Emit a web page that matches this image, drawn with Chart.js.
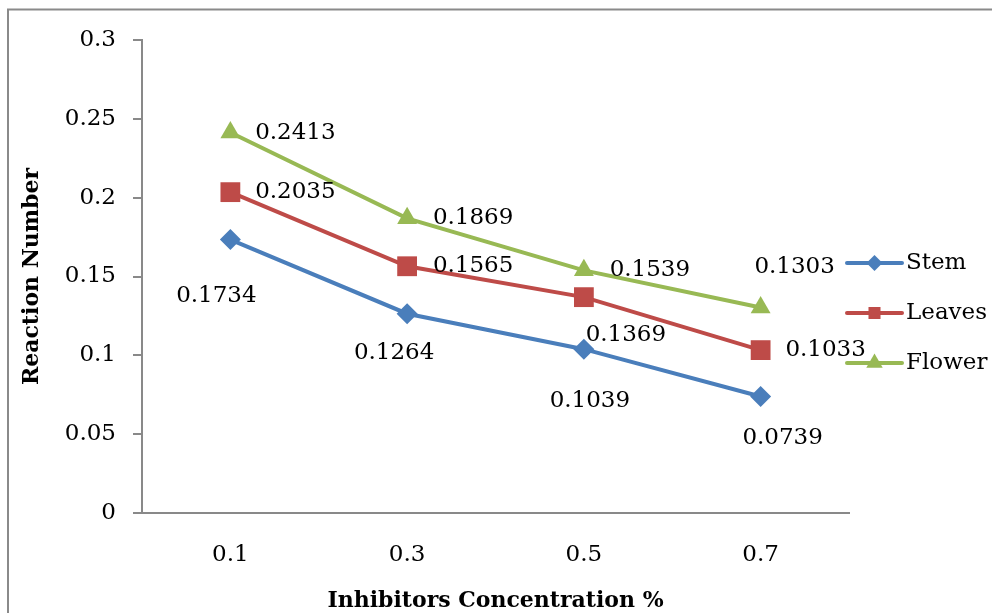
<!DOCTYPE html>
<html>
<head>
<meta charset="utf-8">
<script src="https://cdn.jsdelivr.net/npm/chart.js@4/dist/chart.umd.min.js"></script>
<style>
  html, body { margin: 0; padding: 0; background: #fff; }
  #wrap { width: 992px; height: 613px; }
</style>
</head>
<body>
<div id="wrap"><canvas id="chart" width="992" height="613"></canvas></div>
<script>
const concentrations = ["0.1", "0.3", "0.5", "0.7"];
const stem = [0.1734, 0.1264, 0.1039, 0.0739];
const leaves = [0.2035, 0.1565, 0.1369, 0.1033];
const flower = [0.2413, 0.1869, 0.1539, 0.1303];

const FONT = "'DejaVu Serif', serif";
const AXIS_GRAY = "#898989";

// where each value label sits relative to its point (Excel hand-placed them)
const labelOffsets = [
  [[-14, 56], [-13, 39], [6, 52], [22, 42]],
  [[65, 0], [66, 0], [42, 38], [65, 0]],
  [[65, 0], [66, 0], [66, 0], [34, -41]]
];

const legendMarks = [
  { pointStyle: "rectRot", radius: 8 },
  { pointStyle: "rect", radius: 8.5 },
  { pointStyle: "triangle", radius: 9.5 }
];

const framePlugin = {
  id: "frame",
  beforeDraw(chart) {
    const ctx = chart.ctx;
    ctx.save();
    ctx.fillStyle = "#fff";
    ctx.fillRect(0, 0, chart.width, chart.height);
    ctx.strokeStyle = "#8a8a8a";
    ctx.lineWidth = 2;
    ctx.strokeRect(8, 9.5, chart.width + 20, chart.height + 20);
    ctx.restore();
  }
};

const valueLabels = {
  id: "valueLabels",
  afterDatasetsDraw(chart) {
    const ctx = chart.ctx;
    ctx.save();
    ctx.font = "23px " + FONT;
    ctx.fillStyle = "#000";
    ctx.textAlign = "center";
    ctx.textBaseline = "middle";
    chart.data.datasets.forEach((ds, di) => {
      chart.getDatasetMeta(di).data.forEach((pt, i) => {
        const off = labelOffsets[di][i];
        ctx.fillText(String(ds.data[i]), pt.x + off[0], pt.y + off[1]);
      });
    });
    ctx.restore();
  }
};

const lineLegend = {
  id: "lineLegend",
  afterDraw(chart) {
    const ctx = chart.ctx;
    const x0 = 847, x1 = 902, top = 263, gap = 50;
    ctx.save();
    chart.data.datasets.forEach((ds, i) => {
      const y = top + i * gap;
      ctx.strokeStyle = ds.borderColor;
      ctx.lineWidth = 4;
      ctx.lineCap = "round";
      ctx.beginPath();
      ctx.moveTo(x0, y);
      ctx.lineTo(x1, y);
      ctx.stroke();
      ctx.fillStyle = ds.borderColor;
      Chart.helpers.drawPoint(ctx, {
        pointStyle: legendMarks[i].pointStyle,
        radius: legendMarks[i].radius,
        rotation: 0,
        borderWidth: 0
      }, (x0 + x1) / 2, y);
      ctx.fillStyle = "#000";
      ctx.font = "23px " + FONT;
      ctx.textAlign = "left";
      ctx.textBaseline = "middle";
      ctx.fillText(ds.label, 906, y);
    });
    ctx.restore();
  }
};

new Chart(document.getElementById("chart"), {
  type: "line",
  data: {
    labels: concentrations,
    datasets: [
      {
        label: "Stem", data: stem,
        borderColor: "#4a7ebb", backgroundColor: "#4a7ebb",
        pointStyle: "rectRot", pointRadius: 10.5
      },
      {
        label: "Leaves", data: leaves,
        borderColor: "#be4b48", backgroundColor: "#be4b48",
        pointStyle: "rect", pointRadius: 14
      },
      {
        label: "Flower", data: flower,
        borderColor: "#98b954", backgroundColor: "#98b954",
        pointStyle: "triangle", pointRadius: 11.5
      }
    ]
  },
  options: {
    responsive: false,
    animation: false,
    elements: {
      line: { borderWidth: 4, tension: 0 },
      point: { borderWidth: 0 }
    },
    layout: { padding: { left: 10, top: 40, right: 143, bottom: 0 } },
    plugins: {
      legend: { display: false },
      tooltip: { enabled: false }
    },
    scales: {
      x: {
        offset: true,
        grid: { display: false },
        border: { display: true, color: AXIS_GRAY, width: 2 },
        ticks: { color: "#000", padding: 20, font: { family: FONT, size: 23 } },
        title: {
          display: true, text: "Inhibitors Concentration %", color: "#000",
          padding: { top: 0, bottom: -1 },
          font: { family: FONT, size: 22, weight: "bold" }
        },
        afterFit(scale) { scale.height = 100; }
      },
      y: {
        min: 0, max: 0.3,
        grid: { drawOnChartArea: false, drawTicks: true, tickLength: 9, color: AXIS_GRAY, lineWidth: 2 },
        border: { display: true, color: AXIS_GRAY, width: 2 },
        ticks: {
          stepSize: 0.05, color: "#000", padding: 17,
          font: { family: FONT, size: 23 },
          callback: v => String(parseFloat(v.toFixed(2)))
        },
        title: {
          display: true, text: "Reaction Number", color: "#000",
          padding: { top: 9, bottom: 0 },
          font: { family: FONT, size: 22, weight: "bold" }
        },
        afterFit(scale) { scale.width = 132; }
      }
    }
  },
  plugins: [framePlugin, valueLabels, lineLegend]
});
</script>
</body>
</html>
